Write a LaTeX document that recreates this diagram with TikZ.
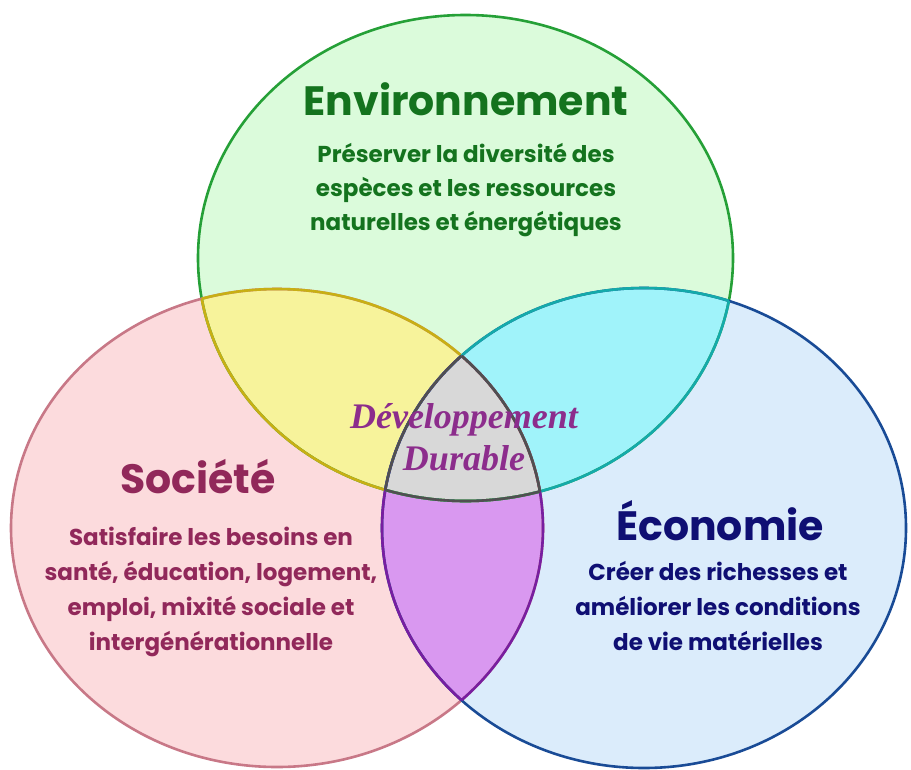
\documentclass[tikz,border=0pt]{standalone}
\usepackage{fontspec}
\setmainfont{Liberation Serif}
\newfontfamily\gothic{Poppins}

\definecolor{envfill}{RGB}{219,251,219}
\definecolor{socfill}{RGB}{252,219,221}
\definecolor{ecofill}{RGB}{219,236,251}
\definecolor{envsoc}{RGB}{247,243,155}
\definecolor{enveco}{RGB}{160,243,250}
\definecolor{soceco}{RGB}{217,152,240}
\definecolor{allthree}{RGB}{216,216,216}
\definecolor{envline}{RGB}{37,160,55}
\definecolor{socline}{RGB}{200,120,135}
\definecolor{ecoline}{RGB}{25,75,150}
\definecolor{envsocline}{RGB}{200,175,20}
\definecolor{envecoline}{RGB}{20,170,170}
\definecolor{socecoline}{RGB}{120,30,160}
\definecolor{allline}{RGB}{80,80,80}
\definecolor{envtext}{RGB}{20,115,30}
\definecolor{soctext}{RGB}{145,40,90}
\definecolor{ecotext}{RGB}{15,15,115}
\definecolor{ddtext}{RGB}{140,45,140}

\tikzset{
  rim/.style={line width=2.6pt},
  title/.style={font=\gothic\bfseries\fontsize{41}{44}\selectfont, inner sep=0pt, anchor=base},
  blurb/.style={font=\gothic\bfseries\fontsize{23}{35}\selectfont, align=center, inner sep=0pt, anchor=base},
  durable/.style={font=\bfseries\itshape\fontsize{36}{42}\selectfont, text=ddtext, align=center, inner sep=0pt, anchor=base}
}

% the three fields (pixel units, y going down)
\def\envzone{(465.5,258) ellipse [x radius=267.5pt, y radius=243pt]}
\def\soczone{(277,528) ellipse [x radius=266pt, y radius=239pt]}
\def\ecozone{(644,528) ellipse [x radius=262pt, y radius=240pt]}

\begin{document}
\begin{tikzpicture}[x=1pt,y=-1pt]
  \useasboundingbox (0,0) rectangle (911,769);

  %% fills
  \fill[envfill] \envzone;
  \fill[socfill] \soczone;
  \fill[ecofill] \ecozone;
  \begin{scope} \clip \soczone; \fill[envsoc] \envzone; \end{scope}
  \begin{scope} \clip \ecozone; \fill[enveco] \envzone; \end{scope}
  \begin{scope} \clip \soczone; \fill[soceco] \ecozone; \end{scope}
  \begin{scope} \clip \soczone; \clip \ecozone; \fill[allthree] \envzone; \end{scope}

  %% rims
  \draw[rim, envline] \envzone;
  \draw[rim, socline] \soczone;
  \draw[rim, ecoline] \ecozone;
  \begin{scope} \clip \envzone; \draw[rim, envsocline] \soczone; \draw[rim, envecoline] \ecozone; \end{scope}
  \begin{scope} \clip \soczone; \draw[rim, envsocline] \envzone; \draw[rim, socecoline] \ecozone; \end{scope}
  \begin{scope} \clip \ecozone; \draw[rim, envecoline] \envzone; \draw[rim, socecoline] \soczone; \end{scope}
  \begin{scope} \clip \envzone; \clip \soczone; \draw[rim, allline] \ecozone; \end{scope}
  \begin{scope} \clip \envzone; \clip \ecozone; \draw[rim, allline] \soczone; \end{scope}
  \begin{scope} \clip \soczone; \clip \ecozone; \draw[rim, allline] \envzone; \end{scope}

  %% texts (base = last line)
  \node[title, text=envtext] (env) at (466,115) {Environnement};
  \node[blurb, text=envtext, font=\gothic\bfseries\fontsize{23}{34}\selectfont] (envtxt) at (466,230) {Préserver la diversité des\\espèces et les ressources\\naturelles et énergétiques};

  \node[title, text=soctext] (soc) at (198,493) {Société};
  \node[blurb, text=soctext] (soctxt) at (211,650) {Satisfaire les besoins en\\santé, éducation, logement,\\emploi, mixité sociale et\\intergénérationnelle};

  \node[title, text=ecotext] (eco) at (720,540) {Économie};
  \node[blurb, text=ecotext] (ecotxt) at (718,650) {Créer des richesses et\\améliorer les conditions\\de vie matérielles};

  \node[durable] (dd) at (464,470) {Développement\\Durable};
\end{tikzpicture}
\end{document}
